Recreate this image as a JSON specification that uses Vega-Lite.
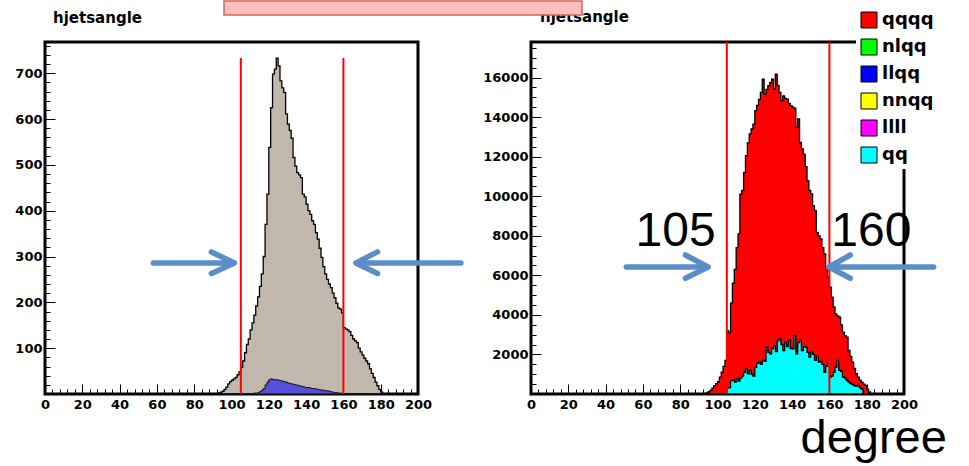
{
  "$schema": "https://vega.github.io/schema/vega-lite/v6.json",
  "background": "white",
  "padding": {"left": 13, "top": -2, "right": 0, "bottom": 0},
  "spacing": 113,
  "bounds": "flush",
  "config": {
    "view": {"stroke": "black", "strokeWidth": 3},
    "axis": {"zindex": 2, "grid": false, "domain": false, "ticks": true, "tickColor": "#000000", "tickWidth": 1, "tickOpacity": 1, "labelFont": "DejaVu Sans", "labelFontWeight": "bold", "labelFontSize": 13, "labelColor": "black", "labelOverlap": false, "labelFlush": false, "labelAngle": 0, "labelBound": false, "title": null}
  },
  "resolve": {"scale": {"color": "independent"}, "legend": {"color": "independent"}},
  "datasets": {
    "left": [
      {"a":92,"total":0,"llqq":0},{"a":93,"total":2,"llqq":0},{"a":94,"total":4,"llqq":0},{"a":95,"total":6,"llqq":0},{"a":96,"total":10,"llqq":0},{"a":97,"total":15,"llqq":0},{"a":98,"total":22,"llqq":0},{"a":99,"total":27,"llqq":0},{"a":100,"total":30,"llqq":0},{"a":101,"total":33,"llqq":0},{"a":102,"total":36,"llqq":0},{"a":103,"total":42,"llqq":0},{"a":104,"total":48,"llqq":0},{"a":105,"total":58,"llqq":0},{"a":106,"total":72,"llqq":0},{"a":107,"total":90,"llqq":0},{"a":108,"total":108,"llqq":0},{"a":109,"total":120,"llqq":0},{"a":110,"total":140,"llqq":1},{"a":111,"total":155,"llqq":1},{"a":112,"total":172,"llqq":2},{"a":113,"total":192,"llqq":2},{"a":114,"total":212,"llqq":3},{"a":115,"total":235,"llqq":5},{"a":116,"total":262,"llqq":8},{"a":117,"total":300,"llqq":12},{"a":118,"total":370,"llqq":20},{"a":119,"total":436,"llqq":26},{"a":120,"total":538,"llqq":31},{"a":121,"total":625,"llqq":33},{"a":122,"total":698,"llqq":32},{"a":123,"total":709,"llqq":31},{"a":124,"total":733,"llqq":31},{"a":125,"total":716,"llqq":30},{"a":126,"total":683,"llqq":29},{"a":127,"total":668,"llqq":28},{"a":128,"total":658,"llqq":27},{"a":129,"total":611,"llqq":26},{"a":130,"total":589,"llqq":24},{"a":131,"total":575,"llqq":23},{"a":132,"total":558,"llqq":22},{"a":133,"total":516,"llqq":21},{"a":134,"total":497,"llqq":20},{"a":135,"total":483,"llqq":19},{"a":136,"total":478,"llqq":18},{"a":137,"total":472,"llqq":17},{"a":138,"total":436,"llqq":16},{"a":139,"total":430,"llqq":15},{"a":140,"total":414,"llqq":14},{"a":141,"total":400,"llqq":14},{"a":142,"total":392,"llqq":13},{"a":143,"total":378,"llqq":12},{"a":144,"total":370,"llqq":12},{"a":145,"total":352,"llqq":11},{"a":146,"total":338,"llqq":10},{"a":147,"total":318,"llqq":9},{"a":148,"total":298,"llqq":9},{"a":149,"total":278,"llqq":8},{"a":150,"total":262,"llqq":7},{"a":151,"total":250,"llqq":7},{"a":152,"total":240,"llqq":6},{"a":153,"total":232,"llqq":5},{"a":154,"total":220,"llqq":4},{"a":155,"total":210,"llqq":3},{"a":156,"total":198,"llqq":3},{"a":157,"total":188,"llqq":2},{"a":158,"total":185,"llqq":2},{"a":159,"total":177,"llqq":1},{"a":160,"total":145,"llqq":1},{"a":161,"total":142,"llqq":0},{"a":162,"total":140,"llqq":0},{"a":163,"total":136,"llqq":0},{"a":164,"total":128,"llqq":0},{"a":165,"total":120,"llqq":0},{"a":166,"total":116,"llqq":0},{"a":167,"total":112,"llqq":0},{"a":168,"total":100,"llqq":0},{"a":169,"total":92,"llqq":0},{"a":170,"total":85,"llqq":0},{"a":171,"total":78,"llqq":0},{"a":172,"total":72,"llqq":0},{"a":173,"total":66,"llqq":0},{"a":174,"total":55,"llqq":0},{"a":175,"total":45,"llqq":0},{"a":176,"total":36,"llqq":0},{"a":177,"total":26,"llqq":0},{"a":178,"total":18,"llqq":0},{"a":179,"total":10,"llqq":0},{"a":180,"total":4,"llqq":0},{"a":181,"total":1,"llqq":0},{"a":182,"total":0,"llqq":0}
    ],
    "right": [
      {"a":93,"qqqq":0,"qq":0},{"a":94,"qqqq":60,"qq":0},{"a":95,"qqqq":120,"qq":0},{"a":96,"qqqq":180,"qq":0},{"a":97,"qqqq":300,"qq":0},{"a":98,"qqqq":420,"qq":0},{"a":99,"qqqq":520,"qq":0},{"a":100,"qqqq":620,"qq":0},{"a":101,"qqqq":850,"qq":0},{"a":102,"qqqq":1100,"qq":0},{"a":103,"qqqq":1400,"qq":0},{"a":104,"qqqq":1700,"qq":0},{"a":105,"qqqq":3200,"qq":300},{"a":106,"qqqq":3100,"qq":320},{"a":107,"qqqq":4600,"qq":680},{"a":108,"qqqq":5600,"qq":720},{"a":109,"qqqq":6300,"qq":600},{"a":110,"qqqq":7400,"qq":780},{"a":111,"qqqq":8100,"qq":650},{"a":112,"qqqq":10100,"qq":800},{"a":113,"qqqq":10300,"qq":900},{"a":114,"qqqq":11200,"qq":1100},{"a":115,"qqqq":12050,"qq":1276},{"a":116,"qqqq":12700,"qq":1024},{"a":117,"qqqq":13150,"qq":1200},{"a":118,"qqqq":13400,"qq":1000},{"a":119,"qqqq":13650,"qq":900},{"a":120,"qqqq":14330,"qq":1350},{"a":121,"qqqq":14600,"qq":1550},{"a":122,"qqqq":14900,"qq":1612},{"a":123,"qqqq":15250,"qq":1500},{"a":124,"qqqq":15920,"qq":1700},{"a":125,"qqqq":15160,"qq":1650},{"a":126,"qqqq":15400,"qq":2370},{"a":127,"qqqq":15590,"qq":2100},{"a":128,"qqqq":15750,"qq":2030},{"a":129,"qqqq":15920,"qq":2300},{"a":130,"qqqq":15420,"qq":2450},{"a":131,"qqqq":16170,"qq":2150},{"a":132,"qqqq":15600,"qq":2706},{"a":133,"qqqq":15250,"qq":2790},{"a":134,"qqqq":14830,"qq":2500},{"a":135,"qqqq":15080,"qq":2200},{"a":136,"qqqq":14950,"qq":2620},{"a":137,"qqqq":14910,"qq":2400},{"a":138,"qqqq":14700,"qq":2706},{"a":139,"qqqq":14580,"qq":2300},{"a":140,"qqqq":14500,"qq":2285},{"a":141,"qqqq":14450,"qq":2960},{"a":142,"qqqq":13490,"qq":2030},{"a":143,"qqqq":13910,"qq":2600},{"a":144,"qqqq":12720,"qq":2706},{"a":145,"qqqq":12400,"qq":2200},{"a":146,"qqqq":12130,"qq":2400},{"a":147,"qqqq":11500,"qq":2370},{"a":148,"qqqq":10780,"qq":2100},{"a":149,"qqqq":10300,"qq":1864},{"a":150,"qqqq":10116,"qq":2115},{"a":151,"qqqq":9525,"qq":2000},{"a":152,"qqqq":9273,"qq":1700},{"a":153,"qqqq":8177,"qq":1900},{"a":154,"qqqq":8000,"qq":1610},{"a":155,"qqqq":7843,"qq":1650},{"a":156,"qqqq":7400,"qq":1500},{"a":157,"qqqq":7086,"qq":1100},{"a":158,"qqqq":6410,"qq":1400},{"a":159,"qqqq":5905,"qq":1700},{"a":160,"qqqq":5400,"qq":860},{"a":161,"qqqq":4894,"qq":900},{"a":162,"qqqq":4400,"qq":1100},{"a":163,"qqqq":4056,"qq":1360},{"a":164,"qqqq":3950,"qq":1700},{"a":165,"qqqq":3884,"qq":1200},{"a":166,"qqqq":3500,"qq":1150},{"a":167,"qqqq":3126,"qq":860},{"a":168,"qqqq":2950,"qq":800},{"a":169,"qqqq":2874,"qq":690},{"a":170,"qqqq":2202,"qq":600},{"a":171,"qqqq":1900,"qq":520},{"a":172,"qqqq":1611,"qq":480},{"a":173,"qqqq":1300,"qq":430},{"a":174,"qqqq":1025,"qq":400},{"a":175,"qqqq":850,"qq":430},{"a":176,"qqqq":700,"qq":320},{"a":177,"qqqq":601,"qq":250},{"a":178,"qqqq":500,"qq":0},{"a":179,"qqqq":434,"qq":0},{"a":180,"qqqq":250,"qq":0},{"a":181,"qqqq":100,"qq":0},{"a":182,"qqqq":0,"qq":0}
    ],
    "cuts": [{"cut": 105}, {"cut": 160}],
    "arrowsLeft": [
      {"seg":"s1","ord":0,"x":58.1,"y":286},{"seg":"s1","ord":1,"x":99,"y":286},
      {"seg":"h1","ord":0,"x":89.2,"y":310},{"seg":"h1","ord":1,"x":101.6,"y":286},{"seg":"h1","ord":2,"x":89.2,"y":263},
      {"seg":"s2","ord":0,"x":223,"y":286},{"seg":"s2","ord":1,"x":168,"y":286},
      {"seg":"h2","ord":0,"x":178.3,"y":310},{"seg":"h2","ord":1,"x":166.7,"y":286},{"seg":"h2","ord":2,"x":178.3,"y":263}
    ],
    "arrowsRight": [
      {"seg":"s1","ord":0,"x":51.1,"y":6422},{"seg":"s1","ord":1,"x":93.5,"y":6422},
      {"seg":"h1","ord":0,"x":82.8,"y":7029},{"seg":"h1","ord":1,"x":95,"y":6422},{"seg":"h1","ord":2,"x":82.8,"y":5851},
      {"seg":"s2","ord":0,"x":215.9,"y":6422},{"seg":"s2","ord":1,"x":161,"y":6422},
      {"seg":"h2","ord":0,"x":171.2,"y":7029},{"seg":"h2","ord":1,"x":159.7,"y":6422},{"seg":"h2","ord":2,"x":171.2,"y":5851}
    ]
  },
  "hconcat": [
    {
      "width": 373,
      "height": 352,
      "resolve": {"scale": {"x": "independent", "y": "independent"}, "axis": {"x": "independent", "y": "independent"}},
      "layer": [
        {
          "layer": [
            {
              "data": {"name": "left"},
              "mark": {"type": "area", "interpolate": "step-after", "fill": "#c1b7ac", "stroke": "black", "strokeWidth": 1.3, "clip": false},
              "encoding": {
                "x": {"field": "a", "type": "quantitative", "title": null, "scale": {"domain": [0, 200], "nice": false},
                  "axis": {"orient": "bottom", "values": [0,20,40,60,80,100,120,140,160,180,200], "tickCount": 11, "offset": -10, "tickSize": 10, "labelPadding": 4}},
                "y": {"field": "total", "type": "quantitative", "title": null, "scale": {"domain": [0, 768], "nice": false},
                  "axis": {"orient": "left", "values": [100,200,300,400,500,600,700], "tickCount": 7, "offset": -10, "tickSize": 10, "labelPadding": 3}}
              }
            },
            {
              "data": {"name": "left"},
              "mark": {"type": "area", "interpolate": "step-after", "fill": "#5650d8", "stroke": "#111111", "strokeWidth": 1, "clip": false},
              "encoding": {
                "x": {"field": "a", "type": "quantitative", "title": null},
                "y": {"field": "llqq", "type": "quantitative", "title": null}
              }
            },
            {
              "data": {"name": "cuts"},
              "mark": {"type": "rule", "color": "#ff0000", "strokeWidth": 2, "clip": false},
              "encoding": {
                "x": {"field": "cut", "type": "quantitative", "title": null},
                "y": {"datum": 0},
                "y2": {"datum": 733}
              }
            },
            {
              "data": {"name": "arrowsLeft"},
              "mark": {"type": "line", "color": "#5b8dc8", "strokeWidth": 5.5, "strokeCap": "round", "strokeJoin": "round", "clip": false},
              "encoding": {
                "x": {"field": "x", "type": "quantitative", "title": null},
                "y": {"field": "y", "type": "quantitative", "title": null},
                "detail": {"field": "seg"},
                "order": {"field": "ord"}
              }
            },
            {
              "data": {"values": [{}]},
              "mark": {"type": "text", "text": "hjetsangle", "font": "DejaVu Sans", "fontSize": 15, "fontWeight": "bold", "align": "left", "baseline": "alphabetic", "color": "black", "clip": false},
              "encoding": {"x": {"datum": 4.3}, "y": {"datum": 810}}
            }
          ]
        },
        {
          "data": {"name": "cuts"},
          "mark": {"type": "point", "opacity": 0},
          "encoding": {
            "x": {"field": "cut", "type": "quantitative", "title": null, "scale": {"domain": [0, 200], "nice": false},
              "axis": {"orient": "bottom", "values": [0,4,8,12,16,20,24,28,32,36,40,44,48,52,56,60,64,68,72,76,80,84,88,92,96,100,104,108,112,116,120,124,128,132,136,140,144,148,152,156,160,164,168,172,176,180,184,188,192,196,200], "tickCount": 51, "offset": -5, "tickSize": 5, "labels": false}},
            "y": {"datum": 0, "type": "quantitative", "title": null, "scale": {"domain": [0, 768], "nice": false},
              "axis": {"orient": "left", "values": [0,20,40,60,80,100,120,140,160,180,200,220,240,260,280,300,320,340,360,380,400,420,440,460,480,500,520,540,560,580,600,620,640,660,680,700,720,740,760], "tickCount": 39, "offset": -5, "tickSize": 5, "labels": false}}
          }
        }
      ]
    },
    {
      "width": 373,
      "height": 352,
      "resolve": {"scale": {"x": "independent", "y": "independent"}, "axis": {"x": "independent", "y": "independent"}},
      "layer": [
        {
          "layer": [
            {
              "data": {"name": "right"},
              "mark": {"type": "area", "interpolate": "step-after", "stroke": "black", "strokeWidth": 1.3, "opacity": 1, "clip": false},
              "encoding": {
                "x": {"field": "a", "type": "quantitative", "title": null, "scale": {"domain": [0, 200], "nice": false},
                  "axis": {"orient": "bottom", "values": [0,20,40,60,80,100,120,140,160,180,200], "tickCount": 11, "offset": -10, "tickSize": 10, "labelPadding": 4}},
                "y": {"field": "qqqq", "type": "quantitative", "title": null, "scale": {"domain": [0, 17800], "nice": false},
                  "axis": {"orient": "left", "values": [2000,4000,6000,8000,10000,12000,14000,16000], "tickCount": 8, "format": "d", "offset": -10, "tickSize": 10, "labelPadding": 3}},
                "color": {"datum": "qqqq", "type": "nominal",
                  "scale": {"domain": ["qqqq", "nlqq", "llqq", "nnqq", "llll", "qq"], "range": ["#ff0000", "#00ff00", "#0000ff", "#ffff00", "#ff00ff", "#00ffff"]},
                  "legend": {"title": null, "orient": "none", "legendX": 325, "legendY": -35, "fillColor": "white", "padding": 4, "symbolType": "square", "symbolSize": 256, "symbolStrokeColor": "black", "symbolStrokeWidth": 1, "symbolOpacity": 1, "labelFont": "DejaVu Sans", "labelFontWeight": "bold", "labelFontSize": 18, "labelColor": "black", "labelOffset": 4, "rowPadding": 7, "zindex": 3}}
              }
            },
            {
              "data": {"name": "right"},
              "mark": {"type": "area", "interpolate": "step-after", "stroke": "black", "strokeWidth": 1.3, "opacity": 1, "clip": false},
              "encoding": {
                "x": {"field": "a", "type": "quantitative", "title": null},
                "y": {"field": "qq", "type": "quantitative", "title": null},
                "color": {"datum": "qq", "type": "nominal"}
              }
            },
            {
              "data": {"name": "cuts"},
              "mark": {"type": "rule", "color": "#ff0000", "strokeWidth": 2, "clip": false},
              "encoding": {
                "x": {"field": "cut", "type": "quantitative", "title": null},
                "y": {"datum": 0},
                "y2": {"datum": 17800}
              }
            },
            {
              "data": {"name": "arrowsRight"},
              "mark": {"type": "line", "color": "#5b8dc8", "strokeWidth": 5.5, "strokeCap": "round", "strokeJoin": "round", "clip": false},
              "encoding": {
                "x": {"field": "x", "type": "quantitative", "title": null},
                "y": {"field": "y", "type": "quantitative", "title": null},
                "detail": {"field": "seg"},
                "order": {"field": "ord"}
              }
            },
            {
              "data": {"values": [{}]},
              "mark": {"type": "text", "text": "hjetsangle", "font": "DejaVu Sans", "fontSize": 15, "fontWeight": "bold", "align": "left", "baseline": "alphabetic", "color": "black", "clip": false},
              "encoding": {"x": {"datum": 4.8}, "y": {"datum": 18787}}
            },
            {
              "data": {"values": [{}]},
              "mark": {"type": "text", "text": "105", "font": "Liberation Sans", "fontSize": 48, "align": "right", "baseline": "alphabetic", "color": "black", "clip": false},
              "encoding": {"x": {"datum": 99}, "y": {"datum": 7484}}
            },
            {
              "data": {"values": [{}]},
              "mark": {"type": "text", "text": "160", "font": "Liberation Sans", "fontSize": 48, "align": "left", "baseline": "alphabetic", "color": "black", "clip": false},
              "encoding": {"x": {"datum": 161}, "y": {"datum": 7484}}
            },
            {
              "data": {"values": [{}]},
              "mark": {"type": "text", "text": "degree", "font": "Liberation Sans", "fontSize": 47, "align": "right", "baseline": "alphabetic", "color": "black", "clip": false},
              "encoding": {"x": {"datum": 223}, "y": {"datum": -3000}}
            },
            {
              "data": {"values": [{}]},
              "mark": {"type": "rect", "fill": "#ffbdbd", "stroke": "#d4655d", "strokeWidth": 1.5, "clip": false},
              "encoding": {"x": {"datum": -164.6}, "x2": {"datum": 27.3}, "y": {"datum": 19166}, "y2": {"datum": 19874}}
            }
          ]
        },
        {
          "data": {"name": "cuts"},
          "mark": {"type": "point", "opacity": 0},
          "encoding": {
            "x": {"field": "cut", "type": "quantitative", "title": null, "scale": {"domain": [0, 200], "nice": false},
              "axis": {"orient": "bottom", "values": [0,4,8,12,16,20,24,28,32,36,40,44,48,52,56,60,64,68,72,76,80,84,88,92,96,100,104,108,112,116,120,124,128,132,136,140,144,148,152,156,160,164,168,172,176,180,184,188,192,196,200], "tickCount": 51, "offset": -5, "tickSize": 5, "labels": false}},
            "y": {"datum": 0, "type": "quantitative", "title": null, "scale": {"domain": [0, 17800], "nice": false},
              "axis": {"orient": "left", "values": [0,500,1000,1500,2000,2500,3000,3500,4000,4500,5000,5500,6000,6500,7000,7500,8000,8500,9000,9500,10000,10500,11000,11500,12000,12500,13000,13500,14000,14500,15000,15500,16000,16500,17000,17500], "tickCount": 36, "offset": -5, "tickSize": 5, "labels": false}}
          }
        }
      ]
    }
  ]
}
